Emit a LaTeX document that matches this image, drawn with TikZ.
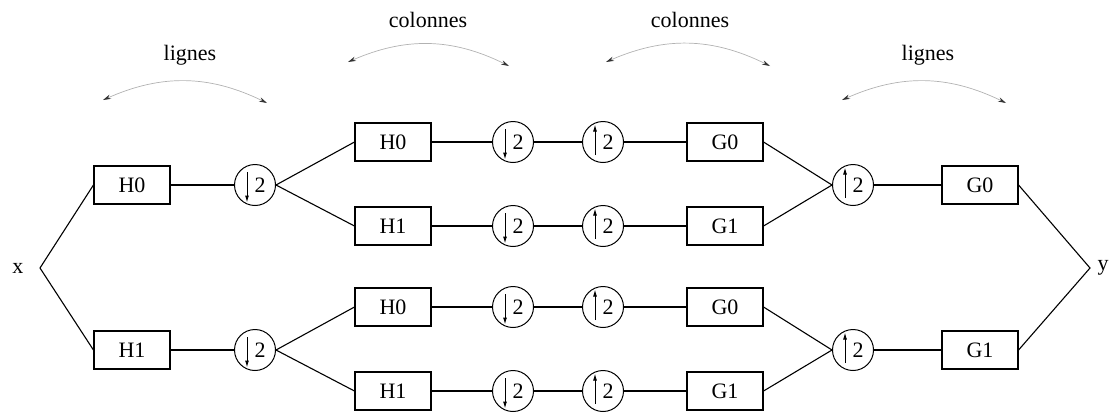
\documentclass[tikz,border=0pt]{standalone}
\usepackage{fontspec}
\setmainfont{Liberation Serif}
\usetikzlibrary{arrows.meta}
\begin{document}
\begin{tikzpicture}[x=1pt,y=-1pt,
  every node/.style={font=\fontsize{22}{26}\selectfont},
  blk/.style={draw, line width=1.1pt, minimum width=76pt, minimum height=38pt, inner sep=0pt},
  samp/.style={circle, draw, line width=1pt, minimum size=41pt, inner sep=0pt},
  dsamp/.style={samp, path picture={\draw[line width=1pt,-{Latex[length=7pt,width=4pt]}]
     ([xshift=-8pt,yshift=13pt]path picture bounding box.center) --
     ([xshift=-8pt,yshift=-17.5pt]path picture bounding box.center);}},
  usamp/.style={samp, path picture={\draw[line width=1pt,-{Latex[length=7pt,width=4pt]}]
     ([xshift=-8pt,yshift=-13pt]path picture bounding box.center) --
     ([xshift=-8pt,yshift=17.5pt]path picture bounding box.center);}},
  wire/.style={line width=1.1pt},
  swap/.style={gray!60, line width=0.7pt, {Stealth[length=8pt,width=4.5pt,gray!40!black]}-{Stealth[length=8pt,width=4.5pt,gray!40!black]}}
]
\useasboundingbox (0,0) rectangle (1115,413);

% labels
\node (xl) at (18,268) {x};
\node (yl) at (1103,268) {y};
\coordinate (vx) at (40,268);
\coordinate (vy) at (1090,268);

% stage 1
\node[blk] (H0a) at (132,185) {H0};
\node[blk] (H1a) at (132,350) {H1};
\node[dsamp] (d1) at (255,185) {\hspace*{10pt}2};
\node[dsamp] (d2) at (255,350) {\hspace*{10pt}2};

% stage 2 boxes
\node[blk] (H0b) at (393,142) {H0};
\node[blk] (H1b) at (393,226) {H1};
\node[blk] (H0c) at (393,307) {H0};
\node[blk] (H1c) at (393,391) {H1};

\node[dsamp] (d3) at (513,142) {\hspace*{10pt}2};
\node[dsamp] (d4) at (513,226) {\hspace*{10pt}2};
\node[dsamp] (d5) at (513,307) {\hspace*{10pt}2};
\node[dsamp] (d6) at (513,391) {\hspace*{10pt}2};

\node[usamp] (u3) at (603,142) {\hspace*{10pt}2};
\node[usamp] (u4) at (603,226) {\hspace*{10pt}2};
\node[usamp] (u5) at (603,307) {\hspace*{10pt}2};
\node[usamp] (u6) at (603,391) {\hspace*{10pt}2};

\node[blk] (G0b) at (725,142) {G0};
\node[blk] (G1b) at (725,226) {G1};
\node[blk] (G0c) at (725,307) {G0};
\node[blk] (G1c) at (725,391) {G1};

\node[usamp] (u1) at (853,185) {\hspace*{10pt}2};
\node[usamp] (u2) at (853,350) {\hspace*{10pt}2};

\node[blk] (G0a) at (980,185) {G0};
\node[blk] (G1a) at (980,350) {G1};

% wires
\draw[wire] (H0a.west) -- (vx) -- (H1a.west);
\draw[wire] (H0a) -- (d1);
\draw[wire] (H1a) -- (d2);
\draw[wire] (H0b.west) -- (d1.east) -- (H1b.west);
\draw[wire] (H0c.west) -- (d2.east) -- (H1c.west);
\draw[wire] (H0b) -- (d3); \draw[wire] (H1b) -- (d4);
\draw[wire] (H0c) -- (d5); \draw[wire] (H1c) -- (d6);
\draw[wire] (d3) -- (u3); \draw[wire] (d4) -- (u4);
\draw[wire] (d5) -- (u5); \draw[wire] (d6) -- (u6);
\draw[wire] (u3) -- (G0b); \draw[wire] (u4) -- (G1b);
\draw[wire] (u5) -- (G0c); \draw[wire] (u6) -- (G1c);
\draw[wire] (G0b.east) -- (u1.west) -- (G1b.east);
\draw[wire] (G0c.east) -- (u2.west) -- (G1c.east);
\draw[wire] (u1) -- (G0a); \draw[wire] (u2) -- (G1a);
\draw[wire] (G0a.east) -- (vy) -- (G1a.east);

% swap annotations
\node (l1) at (190,55) {lignes};
\node (c1) at (428,20) {colonnes};
\node (c2) at (690,20) {colonnes};
\node (l2) at (928,55) {lignes};
\coordinate (l1a) at (103,100); \coordinate (l1b) at (267,103);
\coordinate (c1a) at (348,62);  \coordinate (c1b) at (509,66);
\coordinate (c2a) at (606,62);  \coordinate (c2b) at (770,66);
\coordinate (l2a) at (842,100); \coordinate (l2b) at (1006,103);
\draw[swap] (l1a) to[bend left=25] (l1b);
\draw[swap] (c1a) to[bend left=25] (c1b);
\draw[swap] (c2a) to[bend left=25] (c2b);
\draw[swap] (l2a) to[bend left=25] (l2b);
\end{tikzpicture}
\end{document}
